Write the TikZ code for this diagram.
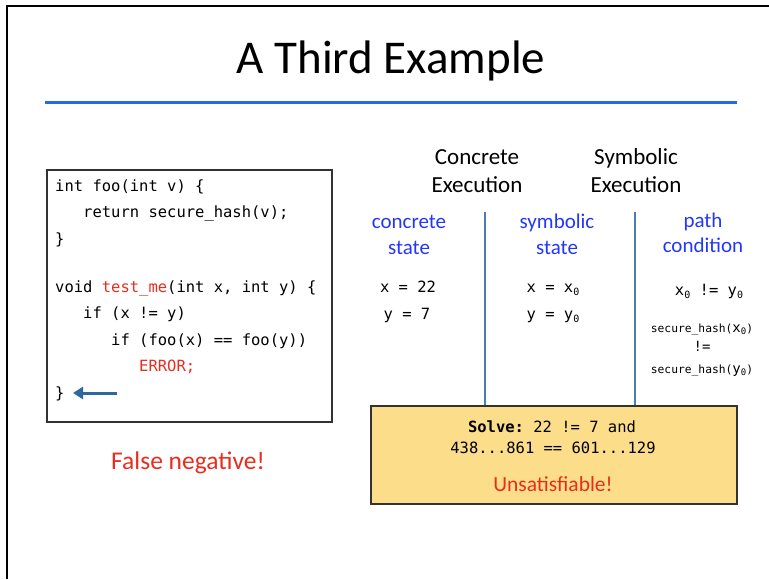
\documentclass[tikz,border=0pt]{standalone}
\usepackage{fontspec}
\setmainfont{Carlito}
\setmonofont{DejaVu Sans Mono}
\usetikzlibrary{arrows.meta}
\definecolor{titleblue}{RGB}{40,105,230}
\definecolor{lblblue}{RGB}{35,55,250}
\definecolor{errred}{RGB}{232,45,30}
\definecolor{linesteel}{RGB}{75,125,180}
\definecolor{arrowsteel}{RGB}{45,105,160}
\definecolor{solvefill}{RGB}{252,222,138}
\definecolor{boxgray}{RGB}{50,50,50}
\newcommand\szero{\raisebox{-3pt}{\fontsize{10}{10}\selectfont 0}}
\newcommand\szsm{\raisebox{-2.5pt}{\fontsize{9}{9}\selectfont 0}}
\tikzset{
  code/.style={anchor=base west,inner sep=0pt,font=\fontsize{15.5}{18}\ttfamily},
  val/.style={anchor=base,inner sep=0pt,font=\fontsize{15.5}{18}\ttfamily},
  small/.style={anchor=base,inner sep=0pt,font=\fontsize{11.3}{13}\ttfamily},
  head/.style={anchor=base,inner sep=0pt,font=\fontsize{23}{27}\selectfont},
  lbl/.style={anchor=base,inner sep=0pt,text=lblblue,font=\fontsize{21}{25}\selectfont},
}
\begin{document}
\begin{tikzpicture}[x=1pt,y=-1pt]
\useasboundingbox (0,0) rectangle (769,579);
% frame
\draw[line width=2.5pt] (7,579) -- (7,6) -- (769,6);
% title
\node[anchor=base,inner sep=0pt,font=\fontsize{47}{50}\selectfont] (title) at (391,73) {A Third Example};
\draw[titleblue,line width=3pt] (45,102) coordinate (tl) -- (737,102) coordinate (tr);
% code box
\draw[boxgray,line width=1.5pt] (47,170) rectangle (332,422);
\node[code] (c1) at (55,191) {int foo(int v) \{};
\node[code] (c2) at (83,217) {return secure\_hash(v);};
\node[code] (c3) at (55,244) {\}};
\node[code] (c4) at (55,292) {void \textcolor{errred}{test\_me}(int x, int y) \{};
\node[code] (c5) at (83,318) {if (x != y)};
\node[code] (c6) at (111,345) {if (foo(x) == foo(y))};
\node[code,text=errred] (c7) at (139,371) {ERROR;};
\node[code] (c8) at (55,398) {\}};
\coordinate (arS) at (117,393);
\coordinate (arE) at (73,393);
\draw[arrowsteel,line width=3pt,-{Triangle[length=10pt,width=12pt]}] (arS) -- (arE);
\node[anchor=base,inner sep=0pt,text=errred,font=\fontsize{25.5}{29}\selectfont] (fn) at (188,469) {False negative!};
% headings
\node[head] (ce1) at (477,164) {Concrete};
\node[head] (ce2) at (477,192) {Execution};
\node[head] (se1) at (636,164) {Symbolic};
\node[head] (se2) at (636,192) {Execution};
\node[lbl] (cs1) at (409,228) {concrete};
\node[lbl] (cs2) at (409,254) {state};
\node[lbl] (ss1) at (557,228) {symbolic};
\node[lbl] (ss2) at (557,254) {state};
\node[lbl] (pc1) at (703,227) {path};
\node[lbl] (pc2) at (703,252) {condition};
% values
\node[val] (v1) at (408,292) {x = 22};
\node[val] (v2) at (407,319) {y = 7};
\node[val] (v3) at (553,292) {x = x\szero};
\node[val] (v4) at (553,319) {y = y\szero};
\node[val] (v5) at (709,295) {x\szero{} != y\szero};
\node[small] (v6) at (702,332) {secure\_hash({\fontsize{14}{14}\selectfont x}\szsm)};
\node[small] (v7) at (702,351) {\fontsize{14}{14}\selectfont !=};
\node[small] (v8) at (702,373) {secure\_hash({\fontsize{14}{14}\selectfont y}\szsm)};
% solve box
\node[draw=boxgray,line width=2pt,fill=solvefill,minimum width=366pt,minimum height=98pt,inner sep=0pt] (solve) at (554,455) {};
\node[val] (s1) at (552,432) {\textbf{Solve:} 22 != 7 and};
\node[val] (s2) at (553,453) {438...861 == 601...129};
\node[anchor=base,inner sep=0pt,text=errred,font=\fontsize{21.5}{25}\selectfont] (s3) at (553,491) {Unsatisfiable!};
% vertical separators
\coordinate (l1) at (485,212);
\coordinate (l2) at (635,212);
\draw[linesteel,line width=1.5pt] (l1) -- (l1 |- solve.north);
\draw[linesteel,line width=1.5pt] (l2) -- (l2 |- solve.north);
\end{tikzpicture}
\end{document}
